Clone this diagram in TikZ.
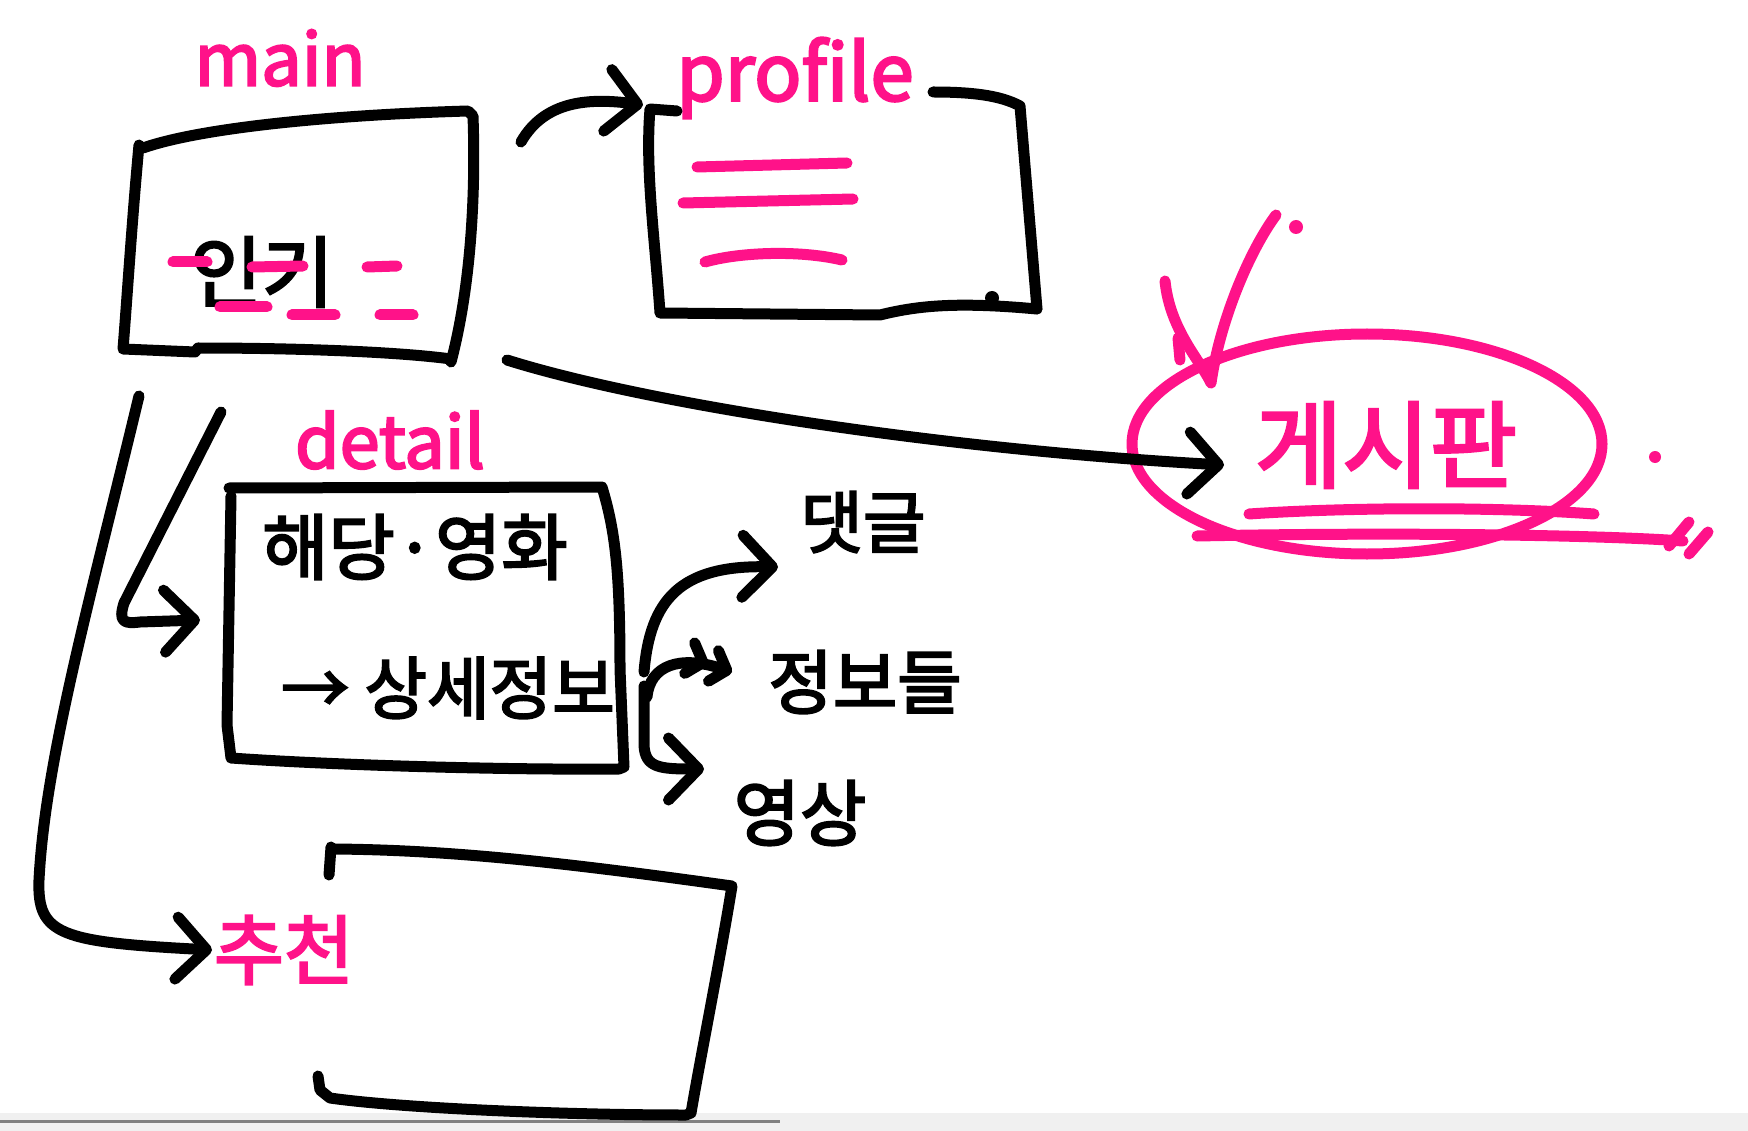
\documentclass[tikz,border=0pt]{standalone}
\usepackage{fontspec}
\newfontfamily\kr[FakeBold=3]{Noto Sans CJK KR}
\usetikzlibrary{arrows.meta}
\definecolor{hpink}{RGB}{255,18,137}
\begin{document}
\begin{tikzpicture}[x=1pt,y=-1pt,
  ink/.style={line width=11pt,line cap=round,line join=round},
  blk/.style={ink,draw=black},
  pk/.style={ink,draw=hpink},
  arr/.style={blk,-{Straight Barb[length=30pt,width=62pt,round]}},
  arrsm/.style={blk,-{Straight Barb[length=14pt,width=32pt,round] Straight Barb[length=14pt,width=32pt,round]}},
  lbl/.style={font=\kr\fontsize{#1pt}{#1pt}\selectfont,inner sep=0pt},
]
\useasboundingbox (0,0) rectangle (1748,1131);
\fill[white] (0,0) rectangle (1748,1131);
% bottom gray strip
\fill[black!6] (0,1113) rectangle (1748,1131);
\draw[gray,line width=3pt] (0,1121) -- (780,1121);

% ---------- text nodes ----------
\node[lbl=72,text=hpink] (tmain) at (280,58) {main};
\node[lbl=78,text=hpink] (tprofile) at (795,78) {profile};
\node[lbl=78] (tingi) at (262,272) {인기};
\node[lbl=72,text=hpink] (tdetail) at (390,440) {detail};
\node[lbl=72] (tmovie) at (415,547) {해당·영화};
\node[lbl=68] (tinfo) at (448,688) {→ 상세정보};
\node[lbl=68] (treply) at (863,522) {댓글};
\node[lbl=70] (tinfos) at (865,682) {정보들};
\node[lbl=72] (tvideo) at (800,813) {영상};
\node[lbl=76,text=hpink] (trec) at (284,950) {추천};
\node[lbl=95,text=hpink] (tboard) at (1386,445) {게시판};

% ---------- main box ----------
\draw[blk] (143,148) .. controls (200,128) and (330,115) .. (468,111) -- (473,116)
  .. controls (476,200) and (470,290) .. (451,362);
\draw[blk] (451,359) .. controls (400,352) and (300,348) .. (198,348) -- (195,352) -- (123,349)
  .. controls (127,300) and (132,220) .. (139,145);
% pink dashes around 인기
\draw[pk] (173,262) -- (207,262);
\draw[pk] (252,267) -- (303,266);
\draw[pk] (220,307) -- (267,307);
\draw[pk] (292,315) -- (335,315);
\draw[pk] (367,267) -- (397,266);
\draw[pk] (380,315) -- (413,315);

% ---------- profile box ----------
\draw[blk] (677,111) -- (650,109) .. controls (645,170) and (655,240) .. (660,313)
  -- (880,315) .. controls (920,305) and (960,302) .. (1037,309);
\draw[blk] (933,92) .. controls (970,92) and (1000,95) .. (1020,106) -- (1037,309);
\fill (992,298) circle (7);
\draw[pk] (697,167) -- (847,163);
\draw[pk] (683,203) -- (853,199);
\draw[pk] (705,262) .. controls (740,252) and (800,250) .. (842,260);

% ---------- detail box ----------
\draw[blk] (229,488) -- (602,487) .. controls (615,530) and (620,570) .. (620,669)
  -- (624,767) -- (619,769) .. controls (500,770) and (330,765) .. (231,758)
  -- (227,725) -- (231,496);

% ---------- 추천 box ----------
\draw[blk] (331,847) -- (329,875);
\draw[blk] (334,849) .. controls (450,850) and (560,862) .. (732,886)
  .. controls (720,960) and (700,1060) .. (691,1113) -- (686,1115)
  .. controls (560,1115) and (400,1108) .. (330,1098) -- (320,1090) -- (318,1076);

% ---------- 게시판 marks ----------
\draw[pk] (1367,444) ellipse [x radius=235, y radius=110];
\draw[pk] (1165,281) .. controls (1170,330) and (1200,360) .. (1211,383)
  .. controls (1220,320) and (1250,250) .. (1276,215);
\draw[pk] (1178,338) -- (1180,360);
\fill[hpink] (1296,227) circle (7);
\fill[hpink] (1655,457) circle (6);
\draw[pk] (1249,514) .. controls (1350,507) and (1500,507) .. (1594,514);
\draw[pk] (1197,536) .. controls (1400,532) and (1600,535) .. (1683,541);
\draw[pk] (1669,546) -- (1689,522);
\draw[pk] (1689,554) -- (1708,532);

% ---------- connector end points ----------
\coordinate (mp0) at (521,142);
\coordinate (pIn) at (643,105);
\coordinate (mb0) at (507,360);
\coordinate (bIn) at (1224,465);
\coordinate (md0) at (221,412);
\coordinate (dIn) at (200,620);
\coordinate (mc0) at (139,396);
\coordinate (cIn) at (212,950);
\coordinate (d1) at (644,672);
\coordinate (rIn) at (778,567);
\coordinate (d2) at (647,697);
\coordinate (iIn) at (732,672);
\coordinate (d3) at (644,686);
\coordinate (vIn) at (704,769);

% ---------- connectors ----------
\draw[arr] (mp0) .. controls (545,100) and (590,98) .. (pIn);
\draw[arr] (mb0) .. controls (650,405) and (950,450) .. (bIn);
\draw[arr] (md0) -- (124,603) .. controls (118,622) and (124,624) .. (140,622) -- (dIn);
\draw[arr] (mc0) .. controls (90,600) and (45,760) .. (39,880)
  .. controls (37,935) and (60,942) .. (cIn);
\draw[arr] (d1) .. controls (650,600) and (680,565) .. (rIn);
\draw[arrsm] (d2) .. controls (650,665) and (680,655) .. (iIn);
\draw[arr] (d3) -- (644,745) .. controls (645,768) and (660,769) .. (vIn);
\end{tikzpicture}
\end{document}
